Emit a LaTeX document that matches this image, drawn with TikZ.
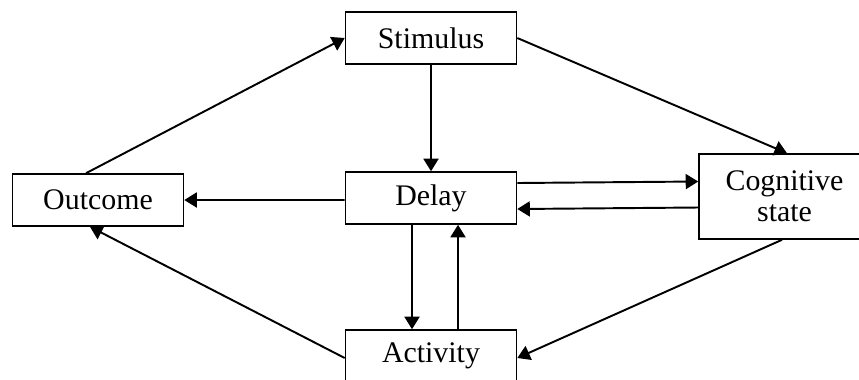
\documentclass[tikz,border=0pt]{standalone}
\usepackage{fontspec}
\setmainfont{Liberation Serif}
\usetikzlibrary{arrows.meta}

\begin{document}
\begin{tikzpicture}[>={Triangle[length=0.25cm,width=0.3cm]},
	box/.style={draw, line width=0.9pt, minimum width=3.42cm, minimum height=1.04cm, inner sep=0pt, align=center, font=\fontsize{17}{17.5}\selectfont}]

	\useasboundingbox (0,0) rectangle (17.18,-7.58);
	\clip (0,0) rectangle (17.18,-7.58);

	\node[box] (a) at (8.62,-0.76)  {Stimulus};
	
	\node[box] (b) at (8.62,-3.96)  {Delay};
	
	\node[box] (c) at (1.96,-4.0)  {Outcome};
	\node[box, minimum height=1.7cm] (d) at (15.69,-3.93)  {Cognitive\\state};
	
	\node[box] (e) at (8.62,-7.12)  {Activity};
	
	\draw[line width=1.1pt] ([xshift=-0.24cm]c.north) edge[->] (a.west)
	(a.south) edge[->] (b.north)
	(a.east) edge[->] ([xshift=0.05cm]d.north)
	([yshift=0.3cm]b.east) edge[->] ([yshift=0.3cm]d.west)
	([yshift=-0.22cm]d.west) edge[->] ([yshift=-0.22cm]b.east)
	([yshift=-0.04cm]b.west) edge[->] (c.east)
	([xshift=-0.38cm]b.south) edge[->] ([xshift=-0.38cm]e.north)
	([xshift=0.54cm]e.north) edge[->] ([xshift=0.54cm]b.south)
	([yshift=-0.04cm]e.west) edge[->] ([xshift=-0.16cm]c.south)
	([xshift=-0.05cm]d.south) edge[->] ([yshift=-0.04cm]e.east);
	
\end{tikzpicture}
\end{document}
